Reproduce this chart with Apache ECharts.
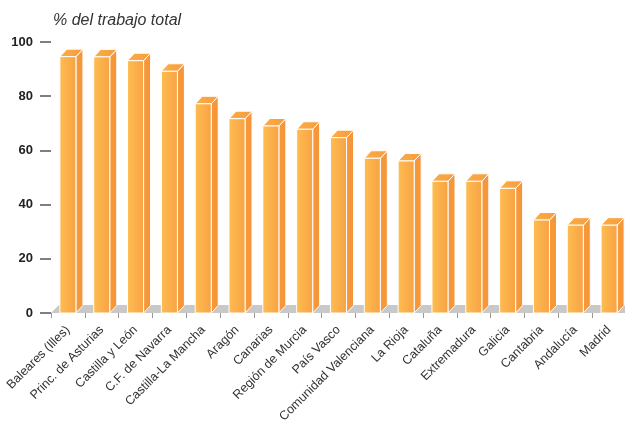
<!DOCTYPE html>
<html>
<head>
<meta charset="utf-8">
<script src="https://cdn.jsdelivr.net/npm/echarts@6/dist/echarts.min.js"></script>
<style>
html,body{margin:0;padding:0;background:#fff;}
#chart{width:625px;height:423px;}
</style>
</head>
<body>
<div id="chart"></div>
<script>
const titleText = '% del trabajo total';
const categories = ['Baleares (Illes)', 'Princ. de Asturias', 'Castilla y León', 'C.F. de Navarra', 'Castilla-La Mancha', 'Aragón', 'Canarias', 'Región de Murcia', 'País Vasco', 'Comunidad Valenciana', 'La Rioja', 'Cataluña', 'Extremadura', 'Galicia', 'Cantabria', 'Andalucía', 'Madrid'];
const values = [94.6, 94.5, 93.1, 89.2, 77.2, 71.7, 69.0, 67.8, 64.7, 57.1, 56.1, 48.6, 48.6, 46.0, 34.3, 32.4, 32.4];
const yTicks = [0, 20, 40, 60, 80, 100];

const FONT = '"Liberation Sans", Arial, Helvetica, sans-serif';
const chart = echarts.init(document.getElementById('chart'), null, {renderer: 'canvas'});

function renderFloor(params, api) {
  const i = api.value(0);
  const c = api.coord([i, 0]);
  const band = api.size([1, 0])[0];
  const left = c[0] - band / 2;
  const yB = c[1];
  const d = 8;
  return {
    type: 'polygon',
    shape: {points: [[left, yB], [left + band + 0.5, yB], [left + band + d + 0.5, yB - d], [left + d, yB - d]]},
    style: {fill: '#C8C8C8'}
  };
}

function renderBar(params, api) {
  const i = api.value(0), v = api.value(1);
  const top = api.coord([i, v]);
  const base = api.coord([i, 0]);
  const band = api.size([1, 0])[0];
  const hw = band * 0.237;
  const x0 = top[0] - hw, x1 = top[0] + hw;
  const yT = top[1], yB = base[1];
  const dx = 7, dy = 7.5;
  return {
    type: 'group',
    children: [
      {type: 'polygon', shape: {points: [[x1, yB], [x1 + dx, yB - dy], [x1 + dx, yT - dy], [x1, yT]]},
        style: {fill: new echarts.graphic.LinearGradient(0, 0, 1, 0, [{offset: 0, color: '#F79A3A'}, {offset: 1, color: '#F59438'}]), stroke: '#fff', lineWidth: 1}},
      {type: 'polygon', shape: {points: [[x0, yT], [x1, yT], [x1 + dx, yT - dy], [x0 + dx, yT - dy]]},
        style: {fill: new echarts.graphic.LinearGradient(0, 0, 1, 0, [{offset: 0, color: '#FBAE47'}, {offset: 1, color: '#F79B3C'}]), stroke: '#fff', lineWidth: 1}},
      {type: 'rect', shape: {x: x0, y: yT, width: x1 - x0, height: yB - yT},
        style: {fill: new echarts.graphic.LinearGradient(0, 0, 1, 0, [{offset: 0, color: '#FEBD51'}, {offset: 1, color: '#F8A244'}]), stroke: '#fff', lineWidth: 1}}
    ]
  };
}

chart.setOption({
  animation: false,
  backgroundColor: '#fff',
  title: {
    text: titleText, left: 53, top: 13, padding: 0,
    textStyle: {fontFamily: FONT, fontSize: 16, fontStyle: 'italic', fontWeight: 'normal', color: '#333'}
  },
  grid: {left: 51, top: 42, width: 575, height: 271, containLabel: false, outerBoundsMode: 'none'},
  xAxis: {
    type: 'category', data: categories, boundaryGap: true, offset: 2,
    axisLine: {show: false},
    axisTick: {show: true, length: 5, interval: 0, alignWithLabel: false, lineStyle: {color: '#999', width: 1}},
    axisLabel: {interval: 0, rotate: 45, margin: 13, fontFamily: FONT, fontSize: 12.5, color: '#333'},
    splitLine: {show: false}
  },
  yAxis: {
    type: 'value', min: yTicks[0], max: yTicks[yTicks.length - 1], interval: yTicks[1] - yTicks[0],
    axisLine: {show: false},
    axisTick: {show: true, length: 11, lineStyle: {color: '#7f7f7f', width: 2}},
    axisLabel: {margin: 18, fontFamily: FONT, fontSize: 13, fontWeight: 'bold', color: '#222'},
    splitLine: {show: false}
  },
  series: [
    {type: 'custom', renderItem: renderFloor, clip: false, z: 1, data: categories.map((c, i) => [i, 0])},
    {type: 'custom', renderItem: renderBar, clip: false, z: 2, data: values.map((v, i) => [i, v])}
  ]
});
</script>
</body>
</html>
